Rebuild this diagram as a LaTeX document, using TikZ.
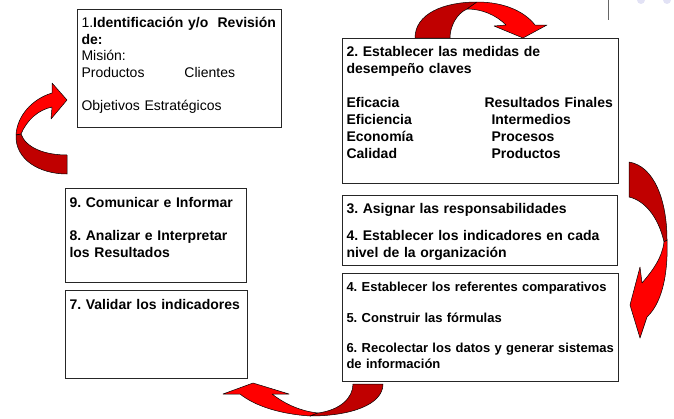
\documentclass[tikz,border=0pt]{standalone}
\usepackage{fontspec}
\setmainfont{Liberation Sans}
\usetikzlibrary{positioning}
\definecolor{arrowred}{HTML}{FF0000}
\definecolor{arrowdark}{HTML}{C00000}
\definecolor{faintblue}{HTML}{E2E2F5}
\frenchspacing
\hyphenpenalty=10000

\begin{document}
\begin{tikzpicture}[x=1pt, y=-1pt,
    stepbox/.style={draw=black!85, line width=1pt, align=left, anchor=north west,
      inner xsep=4pt, inner ysep=4pt, text height=14pt},
    plain/.style={font=\fontsize{14}{16.6}\selectfont},
    bigbold/.style={font=\fontsize{14}{17}\selectfont\bfseries},
    smallbold/.style={font=\fontsize{13}{15.5}\selectfont\bfseries},
    redface/.style={fill=arrowred, draw=black, line width=.5pt, line join=round},
    darkface/.style={fill=arrowdark, draw=black, line width=.5pt, line join=round}]
  \useasboundingbox (0,0) rectangle (674,418);

  \draw[black!60, line width=1pt] (608,0) -- (608,20);
  \fill[faintblue] (641,0) circle (4) (667,0) circle (4);

  \path[darkface] (415,38) .. controls (415,14) and (443,2) .. (477,2) -- (467,9)
    .. controls (456,14) and (450,27) .. (450,38) -- cycle;
  \path[redface] (477,2) .. controls (505,2) and (525,12) .. (535,25) -- (547,25) -- (523,38)
    -- (494,26) -- (506,25) .. controls (496,15) and (482,9) .. (467,9) -- cycle;

  \path[darkface] (629,162) .. controls (654,166) and (667,200) .. (667,240) -- (664,242)
    .. controls (658,215) and (643,200) .. (629,197) -- cycle;
  \path[redface] (667,240) .. controls (668,265) and (665,300) .. (647,317) -- (640,338)
    -- (630,305) -- (640,267) -- (642,283) .. controls (653,270) and (662,258) .. (664,242) -- cycle;

  \path[redface] (253,383) -- (289,394) -- (272,394) .. controls (285,404) and (300,411) .. (318,413)
    -- (310,416) .. controls (280,414) and (255,406) .. (240,394) -- (223,394) -- cycle;
  \path[darkface] (353,384) -- (383,384) .. controls (383,405) and (350,416) .. (310,416)
    -- (318,413) .. controls (340,410) and (353,398) .. (353,384) -- cycle;

  \path[redface] (67,100) -- (52,83) -- (52,93) .. controls (32,99) and (17,116) .. (16,135)
    -- (21,134) .. controls (27,120) and (38,110) .. (52,107) -- (51,119) -- cycle;
  \path[darkface] (16,135) .. controls (15,160) and (40,174) .. (67,174) -- (67,155)
    .. controls (45,155) and (26,148) .. (21,134) -- cycle;

  \node[stepbox, plain, text width=196pt, text depth=96pt] (1) at (77,9)
    {1.\textbf{Identificación y/o\ \ Revisión}\\
     \textbf{de:}\\
     Misión:\\
     \makebox[103pt][l]{Productos}Clientes\\[16.6pt]
     Objetivos Estratégicos};
  \node[stepbox, bigbold, text width=268pt, text depth=123pt] (2) at (342,38)
    {2. Establecer las medidas de\\
     desempeño claves\\[17pt]
     \makebox[138pt][l]{Eficacia}Resultados Finales\\
     \makebox[145pt][l]{Eficiencia}Intermedios\\
     \makebox[145pt][l]{Economía}Procesos\\
     \makebox[145pt][l]{Calidad}Productos};
  \node[stepbox, bigbold, text width=267pt, text depth=48pt, below=11pt of 2.south west, anchor=north west] (3)
    {3. Asignar las responsabilidades\\[10pt]
     4. Establecer los indicadores en cada\\
     nivel de la organización};
  \node[stepbox, smallbold, text width=268pt, text depth=86pt, below=7pt of 3.south west, anchor=north west] (4)
    {4. Establecer los referentes comparativos\\[15pt]
     5. Construir las fórmulas\\[15pt]
     6. Recolectar los datos y generar sistemas\\
     de información};
  \node[stepbox, bigbold, text width=173pt, text height=15pt, text depth=71pt] (9) at (65,188)
    {9. Comunicar e Informar\\[16pt]
     8. Analizar e Interpretar\\
     los Resultados};
  \node[stepbox, bigbold, text width=174pt, text height=15pt, text depth=65pt, below=7pt of 9.south west, anchor=north west] (7)
    {7. Validar los indicadores};
\end{tikzpicture}
\end{document}
